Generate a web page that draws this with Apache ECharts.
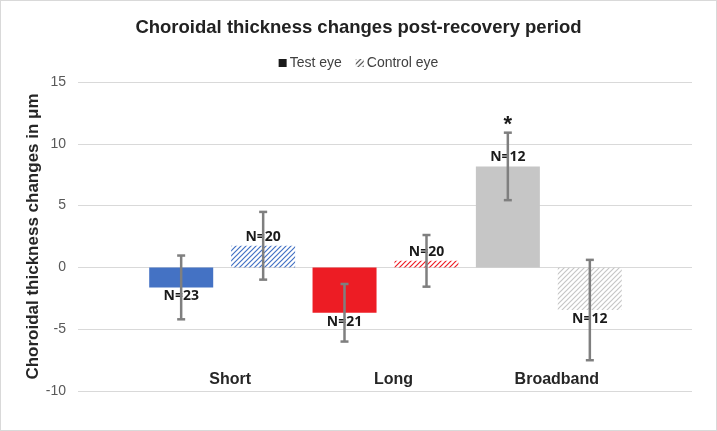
<!DOCTYPE html>
<html>
<head>
<meta charset="utf-8">
<script src="https://cdn.jsdelivr.net/npm/echarts@6/dist/echarts.min.js"></script>
<style>
  html, body { margin: 0; padding: 0; background: #fff; }
  #chart { width: 717px; height: 431px; box-sizing: border-box; border: 1px solid #d9d9d9; }
</style>
</head>
<body>
<div id="chart"></div>
<script>
// data
const categories = ['Short', 'Long', 'Broadband']
const testMean = [-1.62, -3.67, 8.17]
const testErr = [2.58, 2.33, 2.73]
const controlMean = [1.75, 0.53, -3.45]
const controlErr = [2.74, 2.09, 4.06]
const testN = ['N=23', 'N=21', 'N=12']
const controlN = ['N=20', 'N=20', 'N=12']
const testSig = ['', '', '*']
const controlSig = ['', '', '']

const testColors = ['#4472C4', '#ED1C24', '#C6C6C6']

const BAR_W = 64
const HALF_PITCH = 41 // (bar width + gap) / 2

function hatch(color) {
  const c = document.createElement('canvas')
  c.width = c.height = 5
  const ctx = c.getContext('2d')
  ctx.strokeStyle = color
  ctx.lineWidth = 1.2
  ctx.beginPath()
  ctx.moveTo(0, 5); ctx.lineTo(5, 0)
  ctx.moveTo(-2.5, 2.5); ctx.lineTo(2.5, -2.5)
  ctx.moveTo(2.5, 7.5); ctx.lineTo(7.5, 2.5)
  ctx.stroke()
  return { image: c, repeat: 'repeat' }
}

function errorSeries(name, means, errs, sign, sig) {
  return {
    name: name + ' err',
    type: 'custom',
    xAxisIndex: 1,
    yAxisIndex: 1,
    z: 5,
    silent: true,
    data: means.map((m, i) => [i, m, errs[i]]),
    renderItem(params, api) {
      const i = api.value(0), m = api.value(1), e = api.value(2)
      const x = api.coord([i, m])[0] + sign * HALF_PITCH
      const hi = api.coord([i, m + e])[1]
      const lo = api.coord([i, m - e])[1]
      const st = { stroke: '#7F7F7F', lineWidth: 2.5 }
      const children = [
        { type: 'line', shape: { x1: x, y1: hi, x2: x, y2: lo }, style: st },
        { type: 'line', shape: { x1: x - 4, y1: hi, x2: x + 4, y2: hi }, style: st },
        { type: 'line', shape: { x1: x - 4, y1: lo, x2: x + 4, y2: lo }, style: st },
      ]
      const s = sig[params.dataIndex]
      if (s) {
        children.push({
          type: 'text',
          style: { text: s, x: x, y: hi + 3, align: 'center', verticalAlign: 'bottom',
            font: 'bold 22px "Liberation Sans", Arial, sans-serif', fill: '#1a1a1a' },
        })
      }
      return { type: 'group', children }
    },
  }
}

const nLabel = {
  show: true,
  position: 'outside',
  distance: 2,
  color: '#1a1a1a',
  fontFamily: '"Open Sans", sans-serif',
  fontWeight: 'bold',
  fontSize: 14,
}

const chart = echarts.init(document.getElementById('chart'))
chart.setOption({
  animation: false,
  textStyle: { fontFamily: '"Liberation Sans", Arial, sans-serif' },
  title: {
    text: 'Choroidal thickness changes post-recovery period',
    left: 'center',
    top: 12,
    textStyle: { fontSize: 18.5, fontWeight: 'bold', color: '#222' },
  },
  legend: {
    top: 50,
    left: 'center',
    itemWidth: 8,
    itemHeight: 8,
    itemGap: 14,
    icon: 'rect',
    data: ['Test eye', 'Control eye'],
    textStyle: { fontSize: 14, color: '#404040', padding: [0, 0, 0, -2] },
  },
  grid: [
    { left: 77, right: 24, top: 81, bottom: 39 },
    { left: 139.5, right: 85.5, top: 81, bottom: 39 },
  ],
  xAxis: [
    { type: 'category', gridIndex: 0, data: categories, show: false },
    {
      type: 'category',
      gridIndex: 1,
      data: categories,
      axisLine: { show: false },
      axisTick: { show: false },
      axisLabel: {
        inside: true,
        margin: 3,
        padding: [0, 0, 0, 16],
        fontSize: 16,
        fontWeight: 'bold',
        color: '#262626',
      },
    },
  ],
  yAxis: [
    {
      type: 'value',
      gridIndex: 0,
      min: -10,
      max: 15,
      interval: 5,
      name: 'Choroidal thickness changes in μm',
      nameLocation: 'middle',
      nameGap: 36,
      nameMoveOverlap: false,
      nameTextStyle: { fontSize: 17, fontWeight: 'bold', color: '#262626' },
      axisLine: { show: false },
      axisTick: { show: false },
      axisLabel: { fontSize: 14, color: '#595959', margin: 12 },
      splitLine: { lineStyle: { color: '#D9D9D9', width: 1 } },
    },
    { type: 'value', gridIndex: 1, min: -10, max: 15, interval: 5, show: false },
  ],
  series: [
    {
      name: 'Test eye',
      type: 'bar',
      xAxisIndex: 1,
      yAxisIndex: 1,
      barWidth: BAR_W,
      barGap: '28%',
      itemStyle: { color: '#1a1a1a' },
      label: { ...nLabel, formatter: p => testN[p.dataIndex] },
      data: testMean.map((v, i) => ({ value: v, itemStyle: { color: testColors[i] } })),
    },
    {
      name: 'Control eye',
      type: 'bar',
      xAxisIndex: 1,
      yAxisIndex: 1,
      barWidth: BAR_W,
      itemStyle: { color: hatch('#404040') },
      label: { ...nLabel, formatter: p => controlN[p.dataIndex] },
      data: controlMean.map((v, i) => ({ value: v, itemStyle: { color: hatch(testColors[i]) } })),
    },
    errorSeries('Test eye', testMean, testErr, -1, testSig),
    errorSeries('Control eye', controlMean, controlErr, 1, controlSig),
  ],
})
</script>
</body>
</html>
